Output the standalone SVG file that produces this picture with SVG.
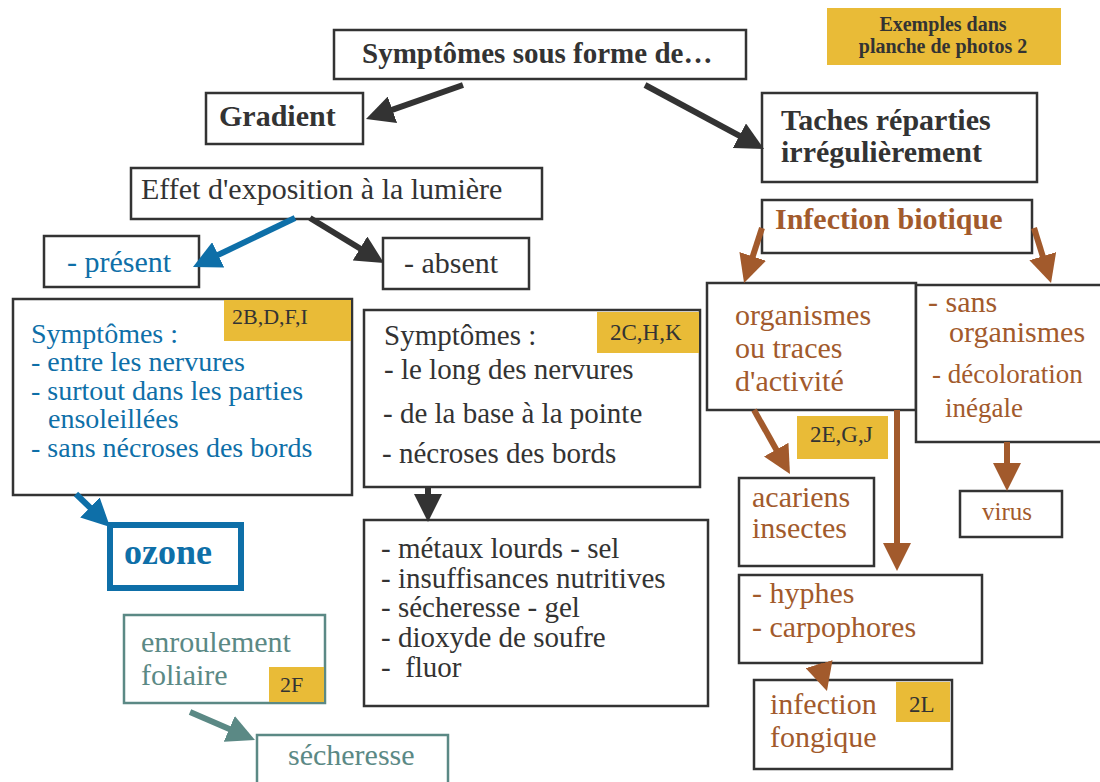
<svg xmlns="http://www.w3.org/2000/svg" width="1100" height="782" viewBox="0 0 1100 782">
<defs>
<style>
.bx{fill:#fff;stroke:#333;stroke-width:2.5}
.tg{fill:#e9bb37;stroke:none}
.t{font-family:"Liberation Serif","Times New Roman",serif;fill:#333}
.b{font-weight:bold}
.blue{fill:#0e6fa8}
.brown{fill:#a25a2c}
.teal{fill:#5b8985}
.tb{fill:#fff;stroke:#5b8985;stroke-width:2.5}
.ln{fill:none;stroke-width:6}
</style>
<marker id="hd" viewBox="0 0 28 28" refX="14" refY="14" markerWidth="28" markerHeight="28" markerUnits="userSpaceOnUse" orient="auto"><path d="M0,0 L28,14 L0,28 z" fill="#333"/></marker>
<marker id="hb" viewBox="0 0 28 28" refX="14" refY="14" markerWidth="28" markerHeight="28" markerUnits="userSpaceOnUse" orient="auto"><path d="M0,0 L28,14 L0,28 z" fill="#0e6fa8"/></marker>
<marker id="hr" viewBox="0 0 28 28" refX="14" refY="14" markerWidth="28" markerHeight="28" markerUnits="userSpaceOnUse" orient="auto"><path d="M0,0 L28,14 L0,28 z" fill="#a25a2c"/></marker>
<marker id="ht" viewBox="0 0 28 28" refX="14" refY="14" markerWidth="28" markerHeight="28" markerUnits="userSpaceOnUse" orient="auto"><path d="M0,0 L28,14 L0,28 z" fill="#5b8985"/></marker>
</defs>
<rect width="1100" height="782" fill="#fff"/>

<g id="n-exemples">
<rect class="tg" x="827" y="8" width="234" height="57"/>
<text class="t b" font-size="20" text-anchor="middle" x="943" y="31">Exemples dans</text>
<text class="t b" font-size="20" text-anchor="middle" x="943" y="53">planche de photos 2</text>
</g>

<g id="n-symptomes">
<rect class="bx" x="334" y="30" width="412" height="49"/>
<text class="t b" font-size="29" x="362" y="63">Symptômes sous forme de…</text>
</g>

<g id="n-gradient">
<rect class="bx" x="206" y="93" width="157" height="51"/>
<text class="t b" font-size="30" x="219" y="126">Gradient</text>
</g>

<g id="n-taches">
<rect class="bx" x="762" y="93" width="275" height="89"/>
<text class="t b" font-size="30" x="781" y="130">Taches réparties</text>
<text class="t b" font-size="30" x="781" y="162">irrégulièrement</text>
</g>

<g id="n-effet">
<rect class="bx" x="131" y="168" width="411" height="51"/>
<text class="t" font-size="30" x="141" y="199">Effet d'exposition à la lumière</text>
</g>

<g id="n-present">
<rect class="bx" x="44" y="236" width="155" height="51"/>
<text class="t blue" font-size="30" x="67" y="272">- présent</text>
</g>

<g id="n-absent">
<rect class="bx" x="383" y="238" width="146" height="51"/>
<text class="t" font-size="30" x="404" y="273">- absent</text>
</g>

<g id="n-sympt-blue">
<rect class="bx" x="13" y="299" width="339" height="196"/>
<rect class="tg" x="224" y="300" width="127" height="41"/>
<text class="t" font-size="22" x="232" y="324">2B,D,F,I</text>
<text class="t blue" font-size="28" x="31" y="343">Symptômes :</text>
<text class="t blue" font-size="28" x="31" y="371">- entre les nervures</text>
<text class="t blue" font-size="28" x="31" y="400">- surtout dans les parties</text>
<text class="t blue" font-size="28" x="48" y="428">ensoleillées</text>
<text class="t blue" font-size="28" x="31" y="457">- sans nécroses des bords</text>
</g>

<g id="n-ozone">
<rect x="110" y="525" width="131" height="63" fill="#fff" stroke="#0e6fa8" stroke-width="6"/>
<text class="t b blue" font-size="36" x="124" y="564">ozone</text>
</g>

<g id="n-sympt-mid">
<rect class="bx" x="364" y="310" width="336" height="177"/>
<rect class="tg" x="597" y="312" width="102" height="41"/>
<text class="t" font-size="23" x="610" y="340">2C,H,K</text>
<text class="t" font-size="29" x="384" y="345">Symptômes :</text>
<text class="t" font-size="29" x="384" y="379">- le long des nervures</text>
<text class="t" font-size="29" x="383" y="423">- de la base à la pointe</text>
<text class="t" font-size="29" x="382" y="463">- nécroses des bords</text>
</g>

<g id="n-causes">
<rect class="bx" x="364" y="520" width="344" height="186"/>
<text class="t" font-size="29" x="381" y="558">- métaux lourds - sel</text>
<text class="t" font-size="29" x="381" y="588">- insuffisances nutritives</text>
<text class="t" font-size="29" x="381" y="617">- sécheresse - gel</text>
<text class="t" font-size="29" x="381" y="647">- dioxyde de soufre</text>
<text class="t" font-size="29" x="381" y="677" xml:space="preserve">-  fluor</text>
</g>

<g id="n-infection">
<rect class="bx" x="762" y="200" width="270" height="53"/>
<text class="t b brown" font-size="30" x="775" y="229">Infection biotique</text>
</g>

<g id="n-organismes">
<rect class="bx" x="707" y="283" width="209" height="127"/>
<text class="t brown" font-size="30" x="735" y="325">organismes</text>
<text class="t brown" font-size="30" x="735" y="358">ou traces</text>
<text class="t brown" font-size="30" x="735" y="391">d'activité</text>
</g>

<g id="n-sans">
<rect class="bx" x="916" y="285" width="190" height="157"/>
<text class="t brown" font-size="30" x="928" y="312">- sans</text>
<text class="t brown" font-size="30" x="949" y="342">organismes</text>
<text class="t brown" font-size="27" x="932" y="383">- décoloration</text>
<text class="t brown" font-size="27" x="945" y="417">inégale</text>
</g>

<g id="n-tag-2e">
<rect class="tg" x="797" y="416" width="91" height="43"/>
<text class="t" font-size="23" x="810" y="442">2E,G,J</text>
</g>

<g id="n-acariens">
<rect class="bx" x="739" y="478" width="135" height="88"/>
<text class="t brown" font-size="30" x="752" y="507">acariens</text>
<text class="t brown" font-size="30" x="752" y="538">insectes</text>
</g>

<g id="n-virus">
<rect class="bx" x="960" y="491" width="102" height="46"/>
<text class="t brown" font-size="25" x="982" y="520">virus</text>
</g>

<g id="n-hyphes">
<rect class="bx" x="739" y="575" width="243" height="88"/>
<text class="t brown" font-size="30" x="752" y="603">- hyphes</text>
<text class="t brown" font-size="30" x="752" y="637">- carpophores</text>
</g>

<g id="n-fongique">
<rect class="bx" x="754" y="680" width="198" height="89"/>
<rect class="tg" x="896" y="682" width="54" height="40"/>
<text class="t" font-size="23" x="909" y="712">2L</text>
<text class="t brown" font-size="30" x="770" y="714">infection</text>
<text class="t brown" font-size="30" x="770" y="747">fongique</text>
</g>

<g id="n-enroulement">
<rect class="tb" x="124" y="615" width="201" height="88"/>
<rect class="tg" x="269" y="667" width="55" height="35"/>
<text class="t" font-size="22" x="280" y="692">2F</text>
<text class="t teal" font-size="30" x="141" y="652">enroulement</text>
<text class="t teal" font-size="30" x="141" y="685">foliaire</text>
</g>

<g id="n-secheresse">
<rect class="tb" x="257" y="735" width="191" height="60"/>
<text class="t teal" font-size="30" x="288" y="765">sécheresse</text>
</g>

<g id="connectors">
<line class="ln" stroke="#333" stroke-width="7" x1="463" y1="85" x2="379.2" y2="114.4" marker-end="url(#hd)"/>
<line class="ln" stroke="#333" stroke-width="7" x1="645" y1="85" x2="751.7" y2="142.4" marker-end="url(#hd)"/>
<line class="ln" stroke="#0e6fa8" x1="295" y1="218" x2="205.6" y2="260.9" marker-end="url(#hb)"/>
<line class="ln" stroke="#333" x1="310" y1="218" x2="372" y2="255.7" marker-end="url(#hd)"/>
<line class="ln" stroke="#a25a2c" x1="762" y1="228" x2="748.4" y2="269.7" marker-end="url(#hr)"/>
<line class="ln" stroke="#a25a2c" x1="1034" y1="228" x2="1046.9" y2="269.6" marker-end="url(#hr)"/>
<line class="ln" stroke="#a25a2c" x1="754" y1="410" x2="783.1" y2="461.8" marker-end="url(#hr)"/>
<line class="ln" stroke="#a25a2c" x1="897" y1="410" x2="897" y2="557" marker-end="url(#hr)"/>
<line class="ln" stroke="#a25a2c" x1="1007" y1="442" x2="1007" y2="477" marker-end="url(#hr)"/>
<line class="ln" stroke="#333" x1="428" y1="487" x2="428" y2="508" marker-end="url(#hd)"/>
<line class="ln" stroke="#0e6fa8" x1="76" y1="494" x2="100" y2="517.2" marker-end="url(#hb)"/>
<line class="ln" stroke="#5b8985" x1="190" y1="712" x2="242.1" y2="734.5" marker-end="url(#ht)"/>
<line class="ln" stroke="#a25a2c" x1="819" y1="664" x2="823" y2="677.6" marker-end="url(#hr)"/>
</g>
</svg>
